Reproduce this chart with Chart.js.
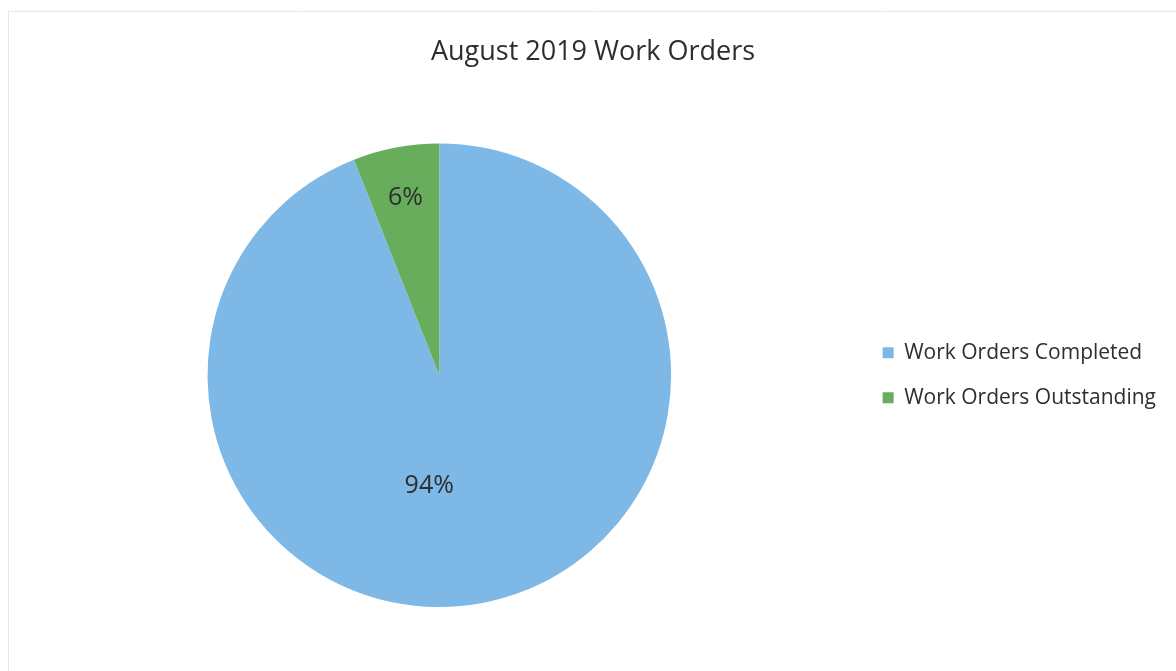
<!DOCTYPE html>
<html>
<head>
<meta charset="utf-8">
<script src="https://cdn.jsdelivr.net/npm/chart.js@4/dist/chart.umd.min.js"></script>
<style>
  html, body { margin: 0; padding: 0; background: #fff; }
  #wrap { width: 1176px; height: 671px; position: relative; }
</style>
</head>
<body>
<div id="wrap"><canvas id="woChart" width="1176" height="671"></canvas></div>
<script>
const categories = ['Work Orders Completed', 'Work Orders Outstanding'];
const shares = [94, 6];
const sliceColors = ['#7db8e6', '#68ad5c'];
// label placement inside each slice: fraction of radius, and a small turn (deg) off the mid-angle
const labelRadius = [0.48, 0.78];
const labelTurn = [16, 0];

const textColor = '#2e2e2e';
const fontFamily = "'Open Sans', 'Liberation Sans', sans-serif";

// faint page frame along the top and left edge
const framePlugin = {
  id: 'frame',
  beforeDraw(chart) {
    const c = chart.ctx;
    c.save();
    c.strokeStyle = '#e6e6e6';
    c.lineWidth = 1;
    c.beginPath();
    c.moveTo(8.5, 671);
    c.lineTo(8.5, 11.5);
    c.lineTo(1176, 11.5);
    c.stroke();
    c.restore();
  }
};

// percentage labels inside each slice
const pctLabels = {
  id: 'pctLabels',
  afterDatasetsDraw(chart) {
    const c = chart.ctx;
    const meta = chart.getDatasetMeta(0);
    c.save();
    c.font = '25px ' + fontFamily;
    c.fillStyle = textColor;
    c.textAlign = 'center';
    c.textBaseline = 'middle';
    meta.data.forEach((arc, i) => {
      const p = arc.getProps(['x', 'y', 'startAngle', 'endAngle', 'outerRadius'], true);
      const ang = (p.startAngle + p.endAngle) / 2 + labelTurn[i] * Math.PI / 180;
      const r = p.outerRadius * labelRadius[i];
      c.fillText(shares[i] + '%', p.x + Math.cos(ang) * r, p.y + Math.sin(ang) * r);
    });
    c.restore();
  }
};

new Chart(document.getElementById('woChart'), {
  type: 'pie',
  data: {
    labels: categories,
    datasets: [{
      data: shares,
      backgroundColor: sliceColors,
      borderWidth: 0
    }]
  },
  options: {
    responsive: false,
    animation: false,
    layout: { padding: { left: 20, right: 10, top: 36, bottom: 64 } },
    plugins: {
      title: {
        display: true,
        text: 'August 2019 Work Orders',
        color: textColor,
        font: { family: fontFamily, size: 27, weight: 'normal', lineHeight: 1.2 },
        padding: { top: 0, bottom: 75 }
      },
      legend: {
        position: 'right',
        fullSize: false,
        labels: {
          color: textColor,
          font: { family: fontFamily, size: 21 },
          boxWidth: 11,
          boxHeight: 11,
          padding: 24
        }
      },
      tooltip: { enabled: false }
    }
  },
  plugins: [framePlugin, pctLabels]
});
</script>
</body>
</html>
